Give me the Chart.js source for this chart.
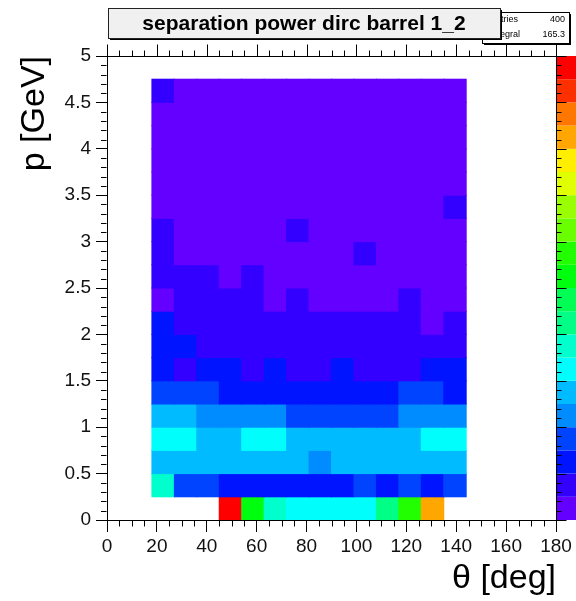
<!DOCTYPE html>
<html><head><meta charset="utf-8">
<script src="https://cdn.jsdelivr.net/npm/chart.js@4.4.1/dist/chart.umd.min.js"></script>
<style>html,body{margin:0;padding:0;background:#fff;overflow:hidden}canvas{display:block}</style>
</head><body><canvas id="c" width="576" height="601"></canvas>
<script>
// ---- data ----
const thetaEdges = [18, 27, 36, 45, 54, 63, 72, 81, 90, 99, 108, 117, 126, 135, 144];
const pEdges = [0, 0.25, 0.5, 0.75, 1, 1.25, 1.5, 1.75, 2, 2.25, 2.5, 2.75, 3, 3.25, 3.5, 3.75, 4, 4.25, 4.5, 4.75];
// separation power, one row per p bin (from p = 0 upward), one value per theta bin
const sepPower = [
  [null, null, null, 5.00, 2.62, 1.88, 1.63, 1.60, 1.66, 1.62, 2.13, 2.87, 4.12, null],
  [1.86, 0.88, 0.90, 0.63, 0.61, 0.64, 0.60, 0.62, 0.65, 0.86, 0.66, 0.89, 0.62, 0.87],
  [1.38, 1.36, 1.39, 1.41, 1.37, 1.35, 1.40, 1.14, 1.36, 1.38, 1.37, 1.39, 1.42, 1.40],
  [1.64, 1.62, 1.43, 1.40, 1.61, 1.63, 1.44, 1.41, 1.39, 1.42, 1.40, 1.43, 1.62, 1.65],
  [1.31, 1.34, 1.16, 1.12, 1.14, 1.10, 0.93, 0.90, 0.88, 0.91, 0.94, 1.12, 1.15, 1.13],
  [0.84, 0.86, 0.83, 0.70, 0.68, 0.71, 0.69, 0.66, 0.70, 0.72, 0.68, 0.82, 0.85, 0.71],
  [0.56, 0.46, 0.55, 0.53, 0.47, 0.54, 0.45, 0.47, 0.53, 0.46, 0.44, 0.45, 0.55, 0.57],
  [0.54, 0.52, 0.42, 0.40, 0.41, 0.43, 0.39, 0.40, 0.42, 0.38, 0.41, 0.40, 0.39, 0.42],
  [0.53, 0.36, 0.38, 0.35, 0.37, 0.34, 0.36, 0.35, 0.37, 0.33, 0.36, 0.34, 0.22, 0.35],
  [0.23, 0.31, 0.33, 0.30, 0.32, 0.22, 0.30, 0.21, 0.23, 0.22, 0.24, 0.31, 0.22, 0.21],
  [0.29, 0.30, 0.28, 0.23, 0.29, 0.22, 0.21, 0.23, 0.22, 0.20, 0.21, 0.22, 0.23, 0.21],
  [0.28, 0.21, 0.20, 0.22, 0.21, 0.19, 0.20, 0.22, 0.21, 0.27, 0.20, 0.21, 0.19, 0.22],
  [0.28, 0.20, 0.19, 0.21, 0.20, 0.18, 0.27, 0.19, 0.20, 0.21, 0.19, 0.20, 0.18, 0.21],
  [0.19, 0.18, 0.20, 0.19, 0.17, 0.18, 0.19, 0.20, 0.18, 0.19, 0.17, 0.18, 0.20, 0.27],
  [0.18, 0.17, 0.19, 0.18, 0.16, 0.17, 0.18, 0.19, 0.17, 0.18, 0.16, 0.17, 0.19, 0.18],
  [0.17, 0.16, 0.18, 0.17, 0.15, 0.16, 0.17, 0.18, 0.16, 0.17, 0.15, 0.16, 0.18, 0.17],
  [0.16, 0.15, 0.17, 0.16, 0.14, 0.15, 0.16, 0.17, 0.15, 0.16, 0.14, 0.15, 0.17, 0.16],
  [0.15, 0.14, 0.16, 0.15, 0.13, 0.14, 0.15, 0.16, 0.14, 0.15, 0.13, 0.14, 0.16, 0.15],
  [0.26, 0.14, 0.13, 0.15, 0.14, 0.12, 0.13, 0.14, 0.15, 0.13, 0.14, 0.12, 0.13, 0.14]
];
const xRange = [0, 180];
const yRange = [0, 5];
const xMajorStep = 20, xMinorPerMajor = 4;
const yMajorStep = 0.5, yMinorPerMajor = 5;
const titleText = 'separation power dirc barrel 1_2';
const statsLabels = ['Entries', 'Integral'];
const statsValues = ['400', '165.3'];
const xTitle = '\u03B8 [deg]';
const yTitle = 'p [GeV]';
// ROOT "pretty" palette, 20 contour levels
const paletteColors = ['#6300ff', '#3300ff', '#0014ff', '#0044ff', '#008bff', '#00bbff', '#00fffc', '#00ffcc', '#00ff85', '#00ff55',
  '#00ff0e', '#22ff00', '#69ff00', '#99ff00', '#e0ff00', '#ffee00', '#ffa700', '#ff7700', '#ff3000', '#ff0000'];

// ---- build ----
const cells = [];
sepPower.forEach((row, r) => row.forEach((v, c) => {
  if (v === null) return;
  cells.push({x: (thetaEdges[c] + thetaEdges[c + 1]) / 2, y: [pEdges[r], pEdges[r + 1]], v: v});
}));
const allV = cells.map(c => c.v);
const zMin = 0, zMax = Math.max(...allV);
function colorFor(v) {
  const n = paletteColors.length;
  let k = Math.floor((v - zMin) / (zMax - zMin) * n);
  k = Math.max(0, Math.min(n - 1, k));
  return paletteColors[k];
}
const FONT = "'Liberation Sans', Arial, Helvetica, sans-serif";
const fmt = v => String(+Number(v).toFixed(3));

const decor = {
  id: 'rootDecor',
  afterDraw(chart) {
    const {ctx, chartArea: a, scales: {x, y}} = chart;
    ctx.save();
    // palette (z axis colour bar)
    const n = paletteColors.length;
    for (let k = 0; k < n; k++) {
      const yb = a.bottom - (a.bottom - a.top) * k / n;
      const yt = a.bottom - (a.bottom - a.top) * (k + 1) / n;
      ctx.fillStyle = paletteColors[k];
      ctx.fillRect(a.right + 1, yt, 40, yb - yt);
    }
    ctx.strokeStyle = '#000';
    ctx.lineWidth = 1;
    const line = (x1, y1, x2, y2) => { ctx.beginPath(); ctx.moveTo(x1, y1); ctx.lineTo(x2, y2); ctx.stroke(); };
    const R = Math.round(a.right) + 0.5, T = Math.round(a.top) + 0.5, B = Math.round(a.bottom) + 0.5, L = Math.round(a.left) - 0.5;
    line(L, T, R, T);
    line(R, T, R, B);
    // x ticks (minor bottom, all top)
    const nx = Math.round((xRange[1] - xRange[0]) / xMajorStep) * xMinorPerMajor;
    for (let i = 0; i <= nx; i++) {
      const v = xRange[0] + i * xMajorStep / xMinorPerMajor;
      const px = Math.round(x.getPixelForValue(v)) + 0.5;
      const major = i % xMinorPerMajor === 0;
      if (!major) line(px, B, px, B + 6);
      line(px, T, px, T - (major ? 12 : 6));
    }
    // y ticks (minor left, all right)
    const ny = Math.round((yRange[1] - yRange[0]) / yMajorStep) * yMinorPerMajor;
    for (let i = 0; i <= ny; i++) {
      const v = yRange[0] + i * yMajorStep / yMinorPerMajor;
      const py = Math.round(y.getPixelForValue(v)) + 0.5;
      const major = i % yMinorPerMajor === 0;
      if (!major) line(L, py, L - 5.5, py);
      line(R, py, R + (major ? 10 : 5), py);
    }
    // stats box
    const sb = {x: 482, y: 12, w: 87, h: 31};
    ctx.fillStyle = '#000';
    ctx.fillRect(sb.x + 2, sb.y + 2, sb.w, sb.h);
    ctx.fillStyle = '#fff';
    ctx.fillRect(sb.x, sb.y, sb.w, sb.h);
    ctx.strokeRect(sb.x + 0.5, sb.y + 0.5, sb.w, sb.h);
    ctx.font = '9px ' + FONT;
    ctx.fillStyle = '#000';
    ctx.textBaseline = 'middle';
    statsLabels.forEach((t, i) => {
      ctx.textAlign = 'left';
      ctx.fillText(t, sb.x + 8, sb.y + 8 + i * 15);
      ctx.textAlign = 'right';
      ctx.fillText(statsValues[i], sb.x + sb.w - 4, sb.y + 8 + i * 15);
    });
    // title box
    const tb = {x: 108, y: 8, w: 392, h: 30};
    ctx.fillStyle = '#000';
    ctx.fillRect(tb.x + 2, tb.y + 2, tb.w, tb.h);
    ctx.fillStyle = '#f0f0f0';
    ctx.fillRect(tb.x, tb.y, tb.w, tb.h);
    ctx.strokeStyle = '#222';
    ctx.strokeRect(tb.x + 0.5, tb.y + 0.5, tb.w, tb.h);
    ctx.fillStyle = '#000';
    ctx.font = 'bold 21px ' + FONT;
    ctx.textAlign = 'center';
    ctx.textBaseline = 'middle';
    ctx.fillText(titleText, tb.x + tb.w / 2, tb.y + tb.h / 2 + 1);
    ctx.restore();
  }
};

new Chart(document.getElementById('c').getContext('2d'), {
  type: 'bar',
  data: {datasets: [{
    data: cells,
    backgroundColor: c => colorFor(c.raw.v),
    borderWidth: 0,
    inflateAmount: 0.5,
    barPercentage: 1,
    categoryPercentage: 1
  }]},
  options: {
    responsive: false, animation: false, devicePixelRatio: 1,
    layout: {padding: {top: 56, right: 20, left: 0, bottom: 0}},
    plugins: {legend: {display: false}, tooltip: {enabled: false}},
    scales: {
      x: {
        type: 'linear', min: xRange[0], max: xRange[1], offset: false,
        ticks: {stepSize: xMajorStep, color: '#111', font: {family: FONT, size: 19}, padding: 3, maxRotation: 0, autoSkip: false, callback: v => fmt(v)},
        grid: {drawOnChartArea: false, offset: false, tickLength: 12, color: '#000'},
        border: {color: '#000'},
        title: {display: true, text: xTitle, align: 'end', color: '#000', font: {family: FONT, size: 34}, padding: {top: 0, bottom: 2}},
        afterFit: s => { s.height = 81; }
      },
      y: {
        type: 'linear', min: yRange[0], max: yRange[1],
        ticks: {stepSize: yMajorStep, color: '#111', font: {family: FONT, size: 19}, padding: 5, callback: v => fmt(v)},
        grid: {drawOnChartArea: false, tickLength: 11, color: '#000'},
        border: {color: '#000'},
        title: {display: true, text: yTitle, align: 'end', color: '#000', font: {family: FONT, size: 34}, padding: {top: 14, bottom: 0}},
        afterFit: s => { s.width = 107; }
      }
    }
  },
  plugins: [decor]
});
</script>
</body></html>
